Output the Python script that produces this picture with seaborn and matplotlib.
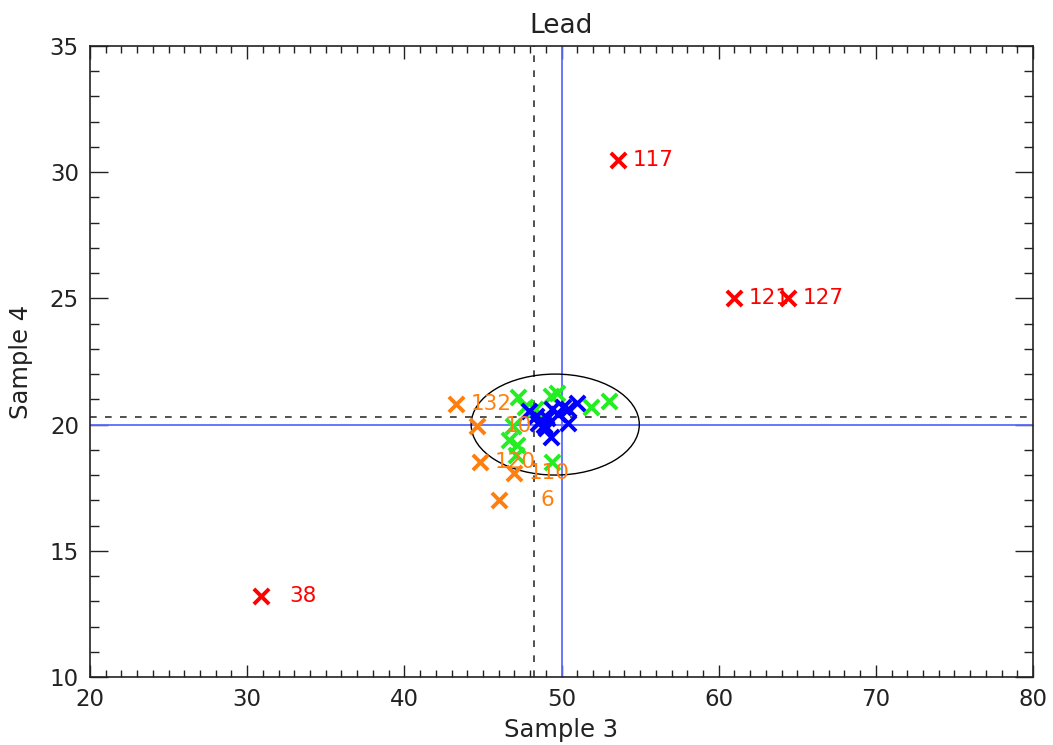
import matplotlib
matplotlib.use("Agg")
import matplotlib.pyplot as plt
from matplotlib.patches import Ellipse
from matplotlib.ticker import MultipleLocator
import seaborn as sns
import pandas as pd

# ---- data ----
red_x = [53.6, 61.0, 64.4, 30.9]
red_y = [30.5, 25.0, 25.0, 13.2]
red_labels = ["117", "121", "127", "38"]

orange_x = [43.3, 44.6, 44.8, 47.0, 46.0]
orange_y = [20.8, 19.95, 18.5, 18.1, 17.0]
orange_labels = ["132", "10", "120", "110", "6"]

green_x = [47.2, 47.7, 49.3, 49.7, 51.9, 53.0, 46.9, 46.65, 47.15, 47.1, 49.4, 48.3]
green_y = [21.1, 20.7, 21.15, 21.25, 20.7, 20.95, 19.95, 19.4, 19.2, 18.8, 18.5, 20.6]

blue_x = [47.9, 48.4, 48.7, 48.9, 49.1, 49.4, 49.8, 50.1, 50.4, 51.0, 50.4, 49.3, 48.5, 49.0]
blue_y = [20.55, 20.35, 20.2, 20.0, 20.25, 20.6, 20.4, 20.7, 20.6, 20.85, 20.05, 19.5, 20.05, 19.85]

median_x, median_y = 50.0, 20.0
mean_x, mean_y = 48.25, 20.3
ell_cx, ell_cy, ell_w, ell_h = 49.6, 20.0, 10.7, 4.0

title = "Lead"
xlabel = "Sample 3"
ylabel = "Sample 4"

groups = (["red"] * len(red_x) + ["orange"] * len(orange_x)
          + ["green"] * len(green_x) + ["blue"] * len(blue_x))
df = pd.DataFrame({
    "x": red_x + orange_x + green_x + blue_x,
    "y": red_y + orange_y + green_y + blue_y,
    "group": groups,
})
palette = {"red": "#ff0000", "orange": "#ff7f0e", "green": "#22ee22", "blue": "#0000ff"}

sns.set_style("ticks")
plt.rcParams["font.family"] = ["DejaVu Sans"]

fig = plt.figure(figsize=(10.53, 7.45), dpi=100)
ax = fig.add_axes([0.0855, 0.0913, 0.8955, 0.847])

ax.axvline(median_x, color="#5a6cff", lw=1.3, zorder=1)
ax.axhline(median_y, color="#5a6cff", lw=1.3, zorder=1)
ax.axvline(mean_x, color="#333333", lw=1.2, ls=(0, (4, 5)), zorder=1)
ax.axhline(mean_y, color="#333333", lw=1.2, ls=(0, (4, 5)), zorder=1)
ax.add_patch(Ellipse((ell_cx, ell_cy), ell_w, ell_h, fill=False, ec="black", lw=1.0, zorder=2))

for g in ["red", "orange", "green", "blue"]:
    sns.scatterplot(data=df[df["group"] == g], x="x", y="y", color=palette[g],
                    marker="x", s=120, linewidth=2.8, ax=ax, legend=False, zorder=3)

for xs, ys, labs, col in [(red_x, red_y, red_labels, "#ff0000"),
                          (orange_x, orange_y, orange_labels, "#ff7f0e")]:
    for xv, yv, lab in zip(xs, ys, labs):
        ax.annotate(lab, (xv, yv), xytext=(40, 0), textcoords="offset points",
                    ha="right", va="center", color=col, fontsize=15.5, zorder=4)

ax.set_xlim(20, 80)
ax.set_ylim(10, 35)
ax.xaxis.set_major_locator(MultipleLocator(10))
ax.xaxis.set_minor_locator(MultipleLocator(1))
ax.yaxis.set_major_locator(MultipleLocator(5))
ax.yaxis.set_minor_locator(MultipleLocator(1))
ax.tick_params(axis="x", which="major", direction="in", length=9, width=1, top=True, bottom=True,
               labelsize=16.5, colors="#222222", pad=8)
ax.tick_params(axis="x", which="minor", direction="in", length=5, width=1, top=True, bottom=True,
               colors="#222222")
ax.tick_params(axis="y", which="major", direction="in", length=13, width=1, left=True, right=True,
               labelsize=16.5, colors="#222222", pad=8)
ax.tick_params(axis="y", which="minor", direction="in", length=6.5, width=1, left=True, right=True,
               colors="#222222")
for sp in ax.spines.values():
    sp.set_visible(True)
    sp.set_color("#222222")
    sp.set_linewidth(1.2)

ax.set_title(title, fontsize=19, color="#222222", pad=9)
ax.set_xlabel(xlabel, fontsize=17.5, color="#222222", labelpad=5)
ax.set_ylabel(ylabel, fontsize=17.5, color="#222222", labelpad=12)

fig.savefig("out.png", dpi=100)
